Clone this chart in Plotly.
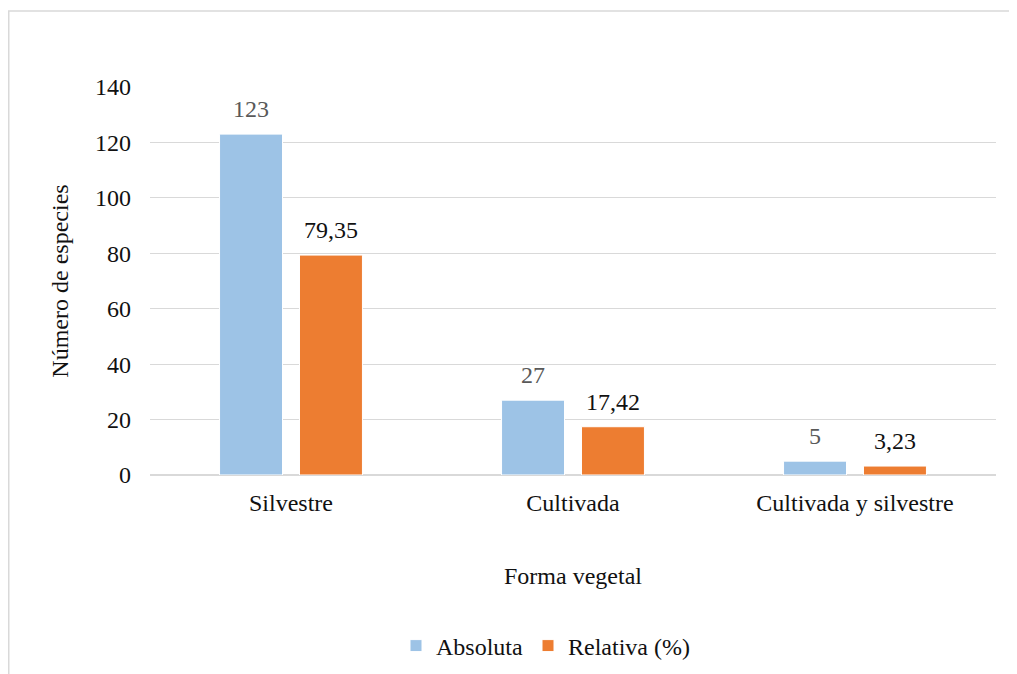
import plotly.graph_objects as go

categories = ["Silvestre", "Cultivada", "Cultivada y silvestre"]
absoluta = [123, 27, 5]
relativa = [79.35, 17.42, 3.23]
y_ticks = [0, 20, 40, 60, 80, 100, 120, 140]

FONT = "Liberation Serif"
BLUE = "#9DC3E6"
ORANGE = "#ED7D31"
FS = 24

fig = go.Figure()
fig.add_trace(go.Bar(name="Absoluta", x=categories, y=absoluta,
                     marker=dict(color=BLUE, line=dict(color="white", width=1))))
fig.add_trace(go.Bar(name="Relativa (%)", x=categories, y=relativa,
                     marker=dict(color=ORANGE, line=dict(color="white", width=1))))

def fmt(v):
    s = f"{v:g}"
    return s.replace(".", ",")

for vals, shift, col in [(absoluta, -40, "#595959"), (relativa, 40, "#111111")]:
    for c, v in zip(categories, vals):
        fig.add_annotation(x=c, y=v, text=fmt(v), showarrow=False,
                           xshift=shift, yshift=10, yanchor="bottom",
                           font=dict(family=FONT, size=FS, color=col))

# page body has 8px margin -> figure drawn at (8, 8)
OFF = 8
W, H = 1017 - OFF, 674 - OFF
L, T = 150 - OFF, 87 - OFF
R = W - (996 - OFF)
B = H - (475 - OFF)
pw, ph = W - L - R, H - T - B

fig.add_shape(type="rect", xref="paper", yref="paper",
              x0=(0.75 - L) / pw, x1=(1040 - L) / pw,
              y0=(H - B - 700) / ph, y1=(H - B - 3) / ph,
              line=dict(color="#d9d9d9", width=1.5), fillcolor="rgba(0,0,0,0)")

fig.update_layout(
    width=W, height=H,
    margin=dict(l=L, r=R, t=T, b=B, autoexpand=False),
    paper_bgcolor="white", plot_bgcolor="white",
    barmode="group", bargap=0.433, bargroupgap=0.2125,
    separators=",.",
    font=dict(family=FONT, size=FS, color="#111111"),
    showlegend=True,
    legend=dict(orientation="h", x=(396 - OFF - L) / pw, xanchor="left",
                y=(H - B - (646 - OFF)) / ph, yanchor="middle",
                font=dict(family=FONT, size=FS, color="#111111"),
                itemwidth=30, tracegroupgap=0, bgcolor="rgba(0,0,0,0)"),
    xaxis=dict(showgrid=False, showline=False, ticks="",
               ticklabelstandoff=11,
               tickfont=dict(family=FONT, size=FS, color="#111111"),
               title=dict(text="Forma vegetal", standoff=52,
                          font=dict(family=FONT, size=FS, color="#111111"))),
    yaxis=dict(range=[0, 140], tickvals=y_ticks, showgrid=True,
               gridcolor="#d9d9d9", gridwidth=1.2,
               zeroline=True, zerolinecolor="#d9d9d9", zerolinewidth=1.5,
               showline=False, ticks="", ticklabelstandoff=18,
               tickfont=dict(family=FONT, size=FS, color="#111111"),
               title=dict(text="Número de especies", standoff=19,
                          font=dict(family=FONT, size=FS, color="#111111"))),
)

fig.write_html("out.html")
